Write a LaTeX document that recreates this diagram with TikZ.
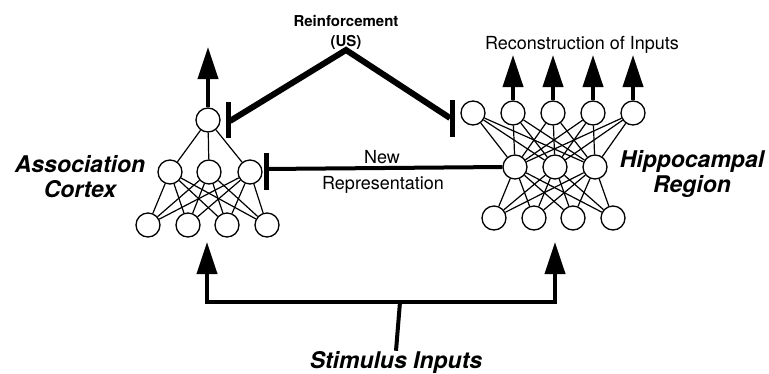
\documentclass[tikz,border=0pt]{standalone}
\usepackage{fontspec}
\setmainfont{TeX Gyre Heros}
\usetikzlibrary{arrows.meta}
\begin{document}
\begin{tikzpicture}[x=1pt,y=-1pt,
  unit/.style={circle,draw,line width=1.3pt,minimum size=24pt,inner sep=0pt},
  wire/.style={line width=1.2pt},
  arr/.style={line width=4pt,-{Triangle[length=32pt,width=20pt]}},
  thickline/.style={line width=4pt},
  reinf/.style={line width=6pt,line join=miter},
  barline/.style={line width=5pt},
  big/.style={font=\fontsize{23}{25}\selectfont\bfseries\itshape,align=center,inner sep=0pt},
  reg/.style={font=\fontsize{18}{20}\selectfont,inner sep=0pt},
  small/.style={font=\fontsize{15}{20}\selectfont\bfseries,align=center,inner sep=0pt}]
\useasboundingbox (0,0) rectangle (769,373);
% Association cortex network
\node[unit] (at) at (208,120) {};
\foreach \i/\x in {1/170,2/209,3/250} \node[unit] (am\i) at (\x,172) {};
\foreach \i/\x in {1/148,2/188,3/227,4/267} \node[unit] (ab\i) at (\x,225) {};
\foreach \i in {1,2,3} \draw[wire] (at) -- (am\i);
\foreach \i in {1,2,3} \foreach \j in {1,2,3,4} \draw[wire] (am\i) -- (ab\j);
% Hippocampal network
\foreach \i/\x in {1/473,2/513,3/553,4/593,5/633} \node[unit] (ht\i) at (\x,113) {};
\foreach \i/\x in {1/515,2/555,3/595} \node[unit] (hm\i) at (\x,167) {};
\foreach \i/\x in {1/494,2/534,3/573,4/613} \node[unit] (hb\i) at (\x,218) {};
\foreach \i in {1,...,5} \foreach \j in {1,2,3} \draw[wire] (ht\i) -- (hm\j);
\foreach \i in {1,2,3} \foreach \j in {1,2,3,4} \draw[wire] (hm\i) -- (hb\j);
% outputs
\coordinate (aout) at (208,47);
\draw[arr] (at) -- (aout);
\foreach \i/\x in {2/513,3/553,4/593,5/633} {
  \coordinate (ho\i) at (\x,55);
  \draw[arr] (ht\i) -- (ho\i);
}
\node[reg] (recon) at (582,45) {Reconstruction of Inputs};
% labels
\node[big] (assoc) at (80,177) {Association\\Cortex};
\node[big] (hippo) at (692,174) {Hippocampal\\Region};
% reinforcement
\node[small] (reinfl) at (346,32) {Reinforcement\\(US)};
\coordinate (rpk) at (346,50);
\coordinate (rl) at (230,121);
\coordinate (rr) at (450,118);
\draw[reinf] (rl) -- (rpk) -- (rr);
\coordinate (rlb1) at (228,102); \coordinate (rlb2) at (228,138);
\coordinate (rrb1) at (452,100); \coordinate (rrb2) at (452,137);
\draw[barline] (rlb1) -- (rlb2);
\draw[barline] (rrb1) -- (rrb2);
% new representation
\coordinate (nrb) at (266,169);
\draw[thickline] (hm1.west) -- (nrb);
\coordinate (nrb1) at (266,153); \coordinate (nrb2) at (266,190);
\draw[barline] (nrb1) -- (nrb2);
\node[reg] (newl) at (382,157) {New};
\node[reg] (repl) at (383,185) {Representation};
% stimulus inputs
\node[big] (stim) at (396,362) {Stimulus Inputs};
\coordinate (sj) at (400,302);
\coordinate (lin) at (207,242);
\coordinate (rin) at (555,242);
\draw[thickline] (stim.north) -- (sj);
\draw[arr] (sj) -| (lin);
\draw[arr] (sj) -| (rin);
\end{tikzpicture}
\end{document}
